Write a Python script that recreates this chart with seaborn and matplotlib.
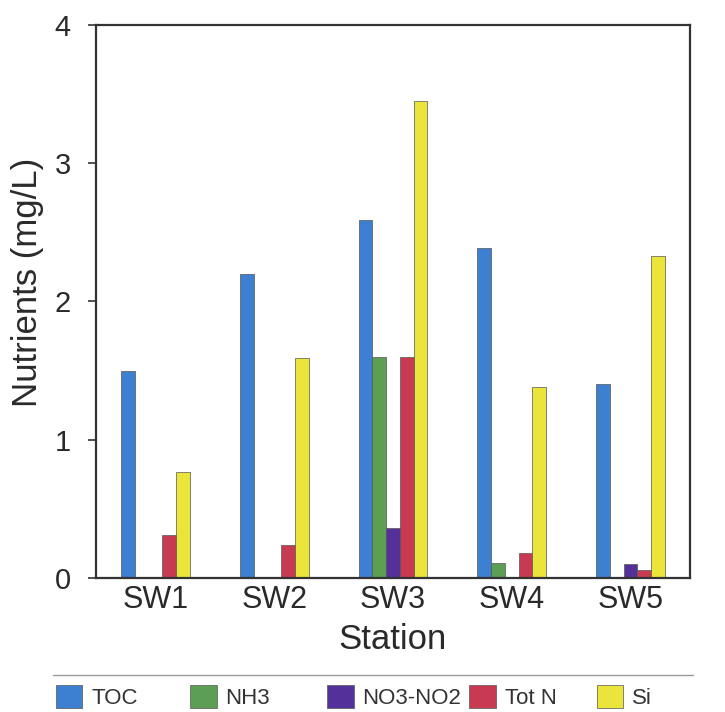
import matplotlib
matplotlib.use("Agg")
import matplotlib.pyplot as plt
from matplotlib.lines import Line2D
import seaborn as sns
import pandas as pd

stations = ["SW1", "SW2", "SW3", "SW4", "SW5"]
nutrients = ["TOC", "NH3", "NO3-NO2", "Tot N", "Si"]
toc = [1.50, 2.20, 2.59, 2.39, 1.40]
nh3 = [0.0, 0.0, 1.60, 0.11, 0.0]
no3_no2 = [0.0, 0.0, 0.36, 0.0, 0.10]
tot_n = [0.31, 0.24, 1.60, 0.18, 0.06]
si = [0.77, 1.59, 3.45, 1.38, 2.33]
y_ticks = [0, 1, 2, 3, 4]

colors = ["#3d7fd0", "#5d9e55", "#54309a", "#c83a52", "#ebe43a"]

series = {"TOC": toc, "NH3": nh3, "NO3-NO2": no3_no2, "Tot N": tot_n, "Si": si}
rows = []
for nut in nutrients:
    for st, v in zip(stations, series[nut]):
        rows.append({"Station": st, "Nutrient": nut, "Value": v})
df = pd.DataFrame(rows)

sns.set_theme(style="ticks")
plt.rcParams["font.family"] = ["Liberation Sans", "DejaVu Sans"]

fig = plt.figure(figsize=(7.25, 7.12), dpi=100)
ax = fig.add_axes([0.1324, 0.1882, 0.8193, 0.7767])

sns.barplot(data=df, x="Station", y="Value", hue="Nutrient", hue_order=nutrients,
            order=stations, palette=colors, saturation=1, width=0.58, gap=0,
            edgecolor="#555555", linewidth=0.5, ax=ax, legend=True)

handles, labels = ax.get_legend_handles_labels()
ax.get_legend().remove()

ax.set_xlim(-0.5, 4.5)
ax.set_ylim(0, 4)
ax.set_yticks(y_ticks)
ax.set_yticklabels([str(t) for t in y_ticks])

for sp in ax.spines.values():
    sp.set_visible(True)
    sp.set_color("#333333")
    sp.set_linewidth(1.6)

ax.tick_params(axis="y", length=6, width=1.2, color="#333333", pad=12,
               labelsize=21, labelcolor="#2a2a2a")
ax.tick_params(axis="x", length=0, pad=5, labelsize=22, labelcolor="#2a2a2a")

ax.set_xlabel("Station", fontsize=25, color="#2a2a2a", labelpad=6)
ax.set_ylabel("Nutrients (mg/L)", fontsize=25, color="#2a2a2a")
ax.yaxis.set_label_coords(-0.088, 0.535)

# separator line above legend
fig.add_artist(Line2D([0.073, 0.956], [0.052, 0.052], color="#9a9a9a", lw=1.0,
                      transform=fig.transFigure))

leg_x = [0.077, 0.262, 0.451, 0.647, 0.823]
for h, l, x in zip(handles, labels, leg_x):
    fig.legend([h], [l], loc="center left", bbox_to_anchor=(x, 0.021),
               frameon=False, handlelength=1.2, handleheight=1.2,
               handletextpad=0.4, borderpad=0, borderaxespad=0,
               fontsize=16, labelcolor="#333333")

fig.savefig("out.png", dpi=100)
